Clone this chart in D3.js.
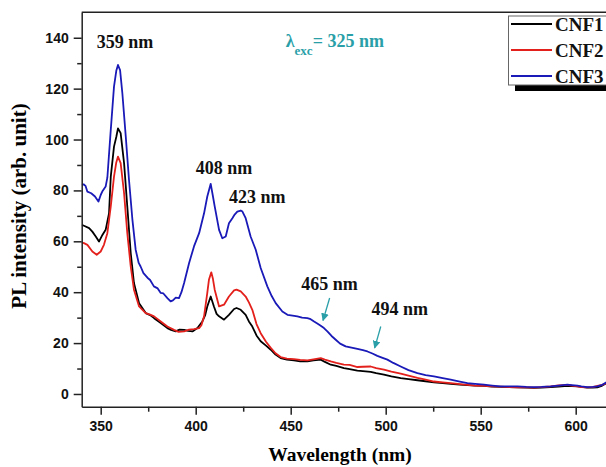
<!DOCTYPE html>
<html><head><meta charset="utf-8">
<script src="https://cdn.jsdelivr.net/npm/d3@7"></script>
<style>
html,body{margin:0;padding:0;background:#fff;}
svg{display:block;}
</style></head>
<body><svg id="c" width="606" height="467"></svg>
<script>
// ---- data (wavelength nm, PL intensity) ----
const cnf1 = [[340,66.5],[341.2,66.1],[343.9,65.2],[345.6,63.8],[347.4,61.9],[349.1,59.9],[350.9,62.5],[352.6,64.5],[354.4,71.1],[355.3,85.4],[357,97.2],[358.2,101],[359.1,104.4],[360.5,102.5],[362.3,90.7],[364,73.7],[365.8,55.4],[367.5,43.6],[370.2,35.7],[373.7,31.8],[376,31],[378.1,29.8],[381.6,27.9],[385.1,25.9],[387,25.2],[389.5,24.6],[391.5,25.3],[393.9,25.2],[396,24.8],[398.3,24.6],[400.9,25.9],[403.5,28.5],[405,31],[406.1,34.4],[407.9,38.3],[409.6,34.4],[411,31.5],[412.3,30.5],[414.9,29.2],[417.5,31.1],[420.2,33.4],[421.5,33.8],[423.7,33.1],[426.3,31.1],[428,28.5],[429.8,26.5],[432,23],[434.2,20.7],[437,19],[439.5,17.4],[442,15.5],[444.7,14.1],[448,13.5],[451.7,13.2],[455,12.8],[458.8,12.8],[462,13.2],[465.8,13.5],[468,12.6],[471.1,11.5],[474,11],[478,10.2],[481,9.8],[485.1,9.2],[488,9.0],[492.1,8.7],[495,8.2],[499.1,7.6],[503,6.9],[507.9,6.2],[512,5.8],[516.7,5.4],[521,5.0],[525.4,4.6],[530,4.3],[534.2,4.0],[539,3.7],[543,3.5],[547,3.3],[551.7,3.2],[556,2.9],[560.5,2.8],[565,2.7],[569.3,2.6],[574,2.5],[578,2.4],[582,2.5],[586.8,2.7],[591,2.9],[595.6,3.2],[598,3.1],[600.9,3.0],[603,2.8],[606,2.5],[609,2.5],[611.4,2.6],[614,3.3],[616.3,4.3],[620,5.3]];
const cnf2 = [[340,59.5],[341.2,59.3],[343,58.6],[345.6,56],[347.9,54.7],[350,56],[351.7,58.6],[353.5,63.2],[355.3,73.7],[357,85.4],[358.2,91],[359.1,93.3],[360.5,90.7],[362.3,78.9],[364,63.2],[365.8,50.1],[367.5,41],[370.2,34.4],[373.7,31.8],[376,31.2],[378.1,30.5],[381.6,28.5],[385.1,26.5],[388.6,25.2],[391,24.4],[393.9,24.6],[396.5,25.3],[399.1,25.5],[401.8,25.9],[403,27],[404.4,30.5],[406.1,39.7],[407,45],[408.2,47.8],[409,45.5],[410,41],[412.3,34.4],[414.9,35.1],[417.5,38.3],[420.2,40.7],[421.5,41],[423.7,40.3],[426.3,38.3],[428,36],[429.8,33.1],[432,27.5],[434.2,23.9],[437,20.5],[439.5,18.1],[442,16],[444.7,14.5],[448,13.9],[451.7,13.7],[455,13.4],[458.8,13.2],[462,13.6],[465.8,14.1],[468,13.5],[471.1,12.8],[474,12.2],[478,11.5],[481,11.4],[485.1,10.6],[488,10.7],[492.1,10.8],[495,10.2],[499.1,9.6],[503,8.8],[507.9,8.0],[512,7.2],[516.7,6.3],[521,5.6],[525.4,4.9],[530,4.6],[534.2,4.3],[539,3.9],[543,3.6],[547,3.3],[551.7,3.2],[556,3.0],[560.5,2.9],[565,2.7],[569.3,2.6],[574,2.6],[578,2.5],[582,2.7],[586.8,3.0],[591,3.4],[595.6,3.6],[598,3.3],[600.9,3.0],[603,2.7],[606,2.6],[609,2.7],[611.4,3.2],[614,3.6],[616.3,4.3],[620,5.3]];
const cnf3 = [[340,82.2],[341,82.4],[342,81.8],[343,79.5],[345,78.9],[347,77.6],[348.8,75.6],[350,78.2],[351,79.8],[352.6,81.5],[353.5,85],[355.3,103.8],[357,120.8],[358.2,127],[359.1,129.3],[360.2,127.3],[361.4,118.2],[363.2,101.1],[364.9,84.1],[366.7,68.4],[368.4,56.7],[370,51.5],[371,50.1],[372.5,47.5],[374.6,45.7],[376,44.8],[378,42.3],[380,41.5],[381.6,39.7],[383,39.5],[385.1,37.7],[386.8,36.4],[388,36.8],[389.5,37.9],[391.2,37.7],[392.5,40],[393.9,43.6],[396.5,51.4],[399.1,58],[401.8,63.2],[404.4,71],[406.1,77.6],[407.9,82.6],[409,78],[410,73.7],[412.3,64.5],[414,61.2],[415.8,61.9],[417.5,67.1],[419.3,69.1],[420.5,70.5],[421.9,71.7],[423.7,72.1],[424.6,71.7],[426.3,69.1],[428.9,61.9],[431.6,56.7],[434.2,49.5],[437.7,42.3],[440,38.5],[442.1,35.7],[445.6,32.4],[448.3,31.1],[451,30.8],[453.5,30.5],[456,30.0],[458.8,29.8],[460.5,29.4],[462.3,28.5],[464,27.7],[465.8,26.8],[467.5,25.9],[469.3,24.6],[471.5,22.8],[473.7,21.3],[476,19.8],[478.9,18.7],[482,18.2],[485.1,17.7],[488,17.2],[490.4,16.7],[493,15.9],[495.6,15.0],[498,14.3],[500.9,13.5],[504,12.2],[507.9,10.8],[512,9.4],[516.7,8.2],[521,7.4],[525.4,6.9],[530,6.2],[534.2,5.6],[539,4.9],[543,4.3],[547,4.0],[551.7,3.65],[556,3.3],[560.5,3.0],[565,3.0],[569.3,3.0],[574,2.8],[578,2.7],[582,2.8],[586.8,3.0],[591,3.3],[595.6,3.65],[598,3.5],[600.9,3.3],[603,3.0],[606,2.7],[609,2.8],[611.4,3.0],[614,3.6],[616.3,4.6],[620,5.5]];
const seriesNames = ["CNF1","CNF2","CNF3"];
const seriesColors = ["#000000","#e3201b","#1a1ab8"];
const xMajor = [350,400,450,500,550,600];
const xMinor = [375,425,475,525,575];
const yMajor = [0,20,40,60,80,100,120,140];
const yMinor = [10,30,50,70,90,110,130];
const peakLabels = [["359 nm",347.9,136],["408 nm",400,86.5],["423 nm",417.5,75],["465 nm",455.6,40.7],["494 nm",492.5,31.1]];
const arrows = [[470.5,37.7,467.0,28.9],[497.4,26.5,494.2,18.1]];

// ---- layout ----
const svg = d3.select("#c");
const L=81.7, T=12.3, B=406.7;
const x = d3.scaleLinear().domain([340,630]).range([L, L+290*1.9]);
const y = d3.scaleLinear().domain([-5,150]).range([B, T]);
const teal = "#2a9fa8";
const serif = "'Liberation Serif','Times New Roman',serif";
const sans = "'Liberation Sans',Arial,sans-serif";

svg.append("defs").append("clipPath").attr("id","clip")
  .append("rect").attr("x",L).attr("y",T).attr("width",700).attr("height",B-T);
svg.select("defs").append("marker").attr("id","ah").attr("viewBox","0 0 10 10")
  .attr("refX",9).attr("refY",5).attr("markerWidth",6).attr("markerHeight",6)
  .attr("orient","auto").append("path").attr("d","M0,0L10,5L0,10z").attr("fill",teal);

// lines
const line = d3.line().x(d=>x(d[0])).y(d=>y(d[1]));
const g = svg.append("g").attr("clip-path","url(#clip)");
[cnf1,cnf2,cnf3].forEach((s,i)=>{
  g.append("path").datum(s).attr("d",line).attr("fill","none")
   .attr("stroke",seriesColors[i]).attr("stroke-width",1.8).attr("stroke-linejoin","round");
});

// axes
const ax = "#222";
svg.append("g").attr("transform",`translate(0,${B})`)
  .call(d3.axisBottom(x).tickValues(xMajor).tickSize(8).tickSizeOuter(0).tickPadding(6).tickFormat(d3.format("d")));
svg.append("g").attr("transform",`translate(0,${B})`)
  .call(d3.axisBottom(x).tickValues(xMinor).tickSize(5).tickFormat("")).select(".domain").remove();
svg.append("g").attr("transform",`translate(${L},0)`)
  .call(d3.axisLeft(y).tickValues(yMajor).tickSize(8).tickSizeOuter(0).tickPadding(5).tickFormat(d3.format("d")));
svg.append("g").attr("transform",`translate(${L},0)`)
  .call(d3.axisLeft(y).tickValues(yMinor).tickSize(4.5).tickFormat("")).select(".domain").remove();
svg.selectAll(".domain,.tick line").attr("stroke",ax).attr("stroke-width",1.5);
svg.selectAll(".tick text").attr("font-family",sans).attr("font-weight","bold")
  .attr("font-size",14).attr("fill","#111");
// top frame
svg.append("line").attr("x1",L).attr("x2",606).attr("y1",T).attr("y2",T)
  .attr("stroke",ax).attr("stroke-width",1.5);

// axis titles
svg.append("text").attr("x",340).attr("y",461).attr("text-anchor","middle")
  .attr("font-family",serif).attr("font-weight","bold").attr("font-size",19.5).text("Wavelength (nm)");
svg.append("text").attr("transform","translate(26,206) rotate(-90)").attr("text-anchor","middle")
  .attr("font-family",serif).attr("font-weight","bold").attr("font-size",21).text("PL intensity (arb. unit)");

// peak labels
peakLabels.forEach(p=>{
  svg.append("text").attr("x",x(p[1])).attr("y",y(p[2])).attr("font-family",serif)
    .attr("font-weight","bold").attr("font-size",18).attr("fill","#111").text(p[0]);
});
arrows.forEach(a=>{
  svg.append("line").attr("x1",x(a[0])).attr("y1",y(a[1])).attr("x2",x(a[2])).attr("y2",y(a[3]))
    .attr("stroke",teal).attr("stroke-width",1.3).attr("marker-end","url(#ah)");
});

// excitation label
const ex = svg.append("text").attr("x",x(447.4)).attr("y",y(136.5)).attr("font-family",serif)
  .attr("font-weight","bold").attr("font-size",18).attr("fill",teal);
ex.append("tspan").text("λ");
ex.append("tspan").attr("font-size",13).attr("dy",8).text("exc");
ex.append("tspan").attr("dy",-8).text("= 325 nm");

// legend
const lg = svg.append("g");
lg.append("rect").attr("x",515).attr("y",85).attr("width",100).attr("height",6).attr("fill","#000");
lg.append("rect").attr("x",508.5).attr("y",16).attr("width",110).attr("height",69)
  .attr("fill","#fff").attr("stroke","#666").attr("stroke-width",1);
const ly = [24,50,76];
seriesNames.forEach((n,i)=>{
  lg.append("line").attr("x1",511).attr("x2",552).attr("y1",ly[i]).attr("y2",ly[i])
    .attr("stroke",seriesColors[i]).attr("stroke-width",2);
  lg.append("text").attr("x",555).attr("y",ly[i]+7).attr("font-family",serif)
    .attr("font-weight","bold").attr("font-size",19).attr("fill","#111").text(n);
});
</script></body></html>
